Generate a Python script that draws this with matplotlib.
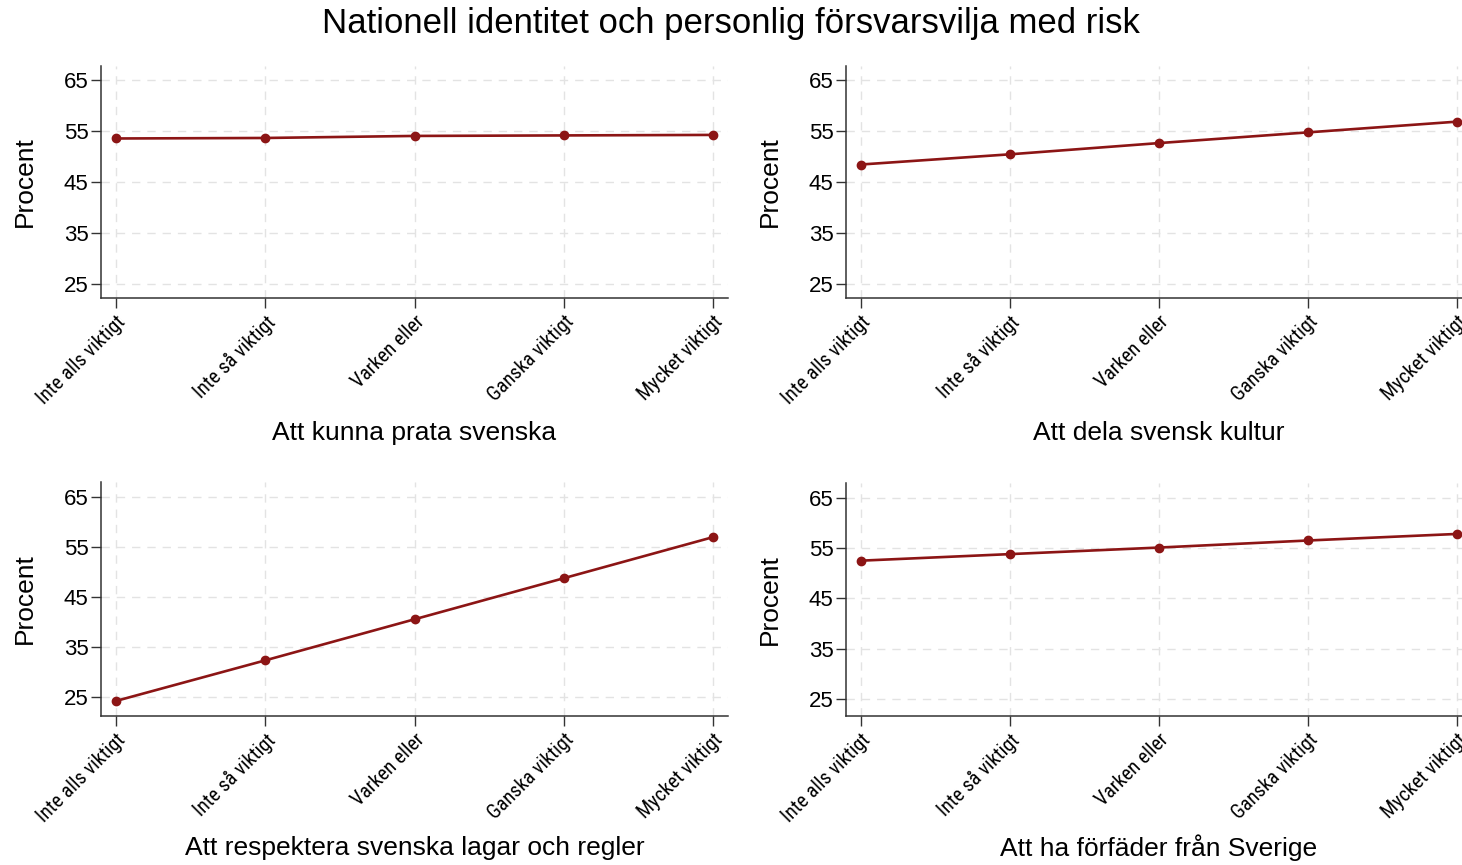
import matplotlib
matplotlib.use("Agg")
import matplotlib.pyplot as plt
from matplotlib import font_manager

names = {f.name for f in font_manager.fontManager.ttflist}
narrow_candidates = ["Liberation Sans Narrow", "Roboto Condensed", "Open Sans Condensed",
                     "DejaVu Sans Condensed", "Noto Sans Condensed"]
narrow = None
for n in narrow_candidates:
    if n in names:
        narrow = n
        break
plt.rcParams['font.family'] = ['Liberation Sans', 'DejaVu Sans']

title = "Nationell identitet och personlig försvarsvilja med risk"
categories = ["Inte alls viktigt", "Inte så viktigt", "Varken eller", "Ganska viktigt", "Mycket viktigt"]
yticks = [25, 35, 45, 55, 65]

panel_titles = ["Att kunna prata svenska", "Att dela svensk kultur",
                "Att respektera svenska lagar och regler", "Att ha förfäder från Sverige"]
svenska = [53.5, 53.6, 54.0, 54.1, 54.2]
kultur = [48.4, 50.4, 52.6, 54.7, 56.8]
lagar = [24.2, 32.3, 40.5, 48.7, 56.9]
forfader = [52.5, 53.8, 55.1, 56.5, 57.8]
series = [svenska, kultur, lagar, forfader]

if narrow is not None:
    xtick_family = [narrow, 'Liberation Sans', 'DejaVu Sans']
    xtick_size = 14.5
else:
    xtick_family = ['Liberation Sans', 'DejaVu Sans']
    xtick_size = 13.5

W, H = 1462, 865
fig = plt.figure(figsize=(W / 100, H / 100), dpi=100)

# pixel boxes: left, top, right, bottom
boxes = [(101, 66, 728, 298), (846, 66, 1472, 298),
         (101, 482, 728, 716), (846, 483, 1472, 716)]
ylims = [(22.25, 67.7), (22.25, 67.7), (21.2, 67.9), (21.7, 67.9)]
xlabel_y = [433, 433, 848, 848]
ylabel_x = [25, 770, 25, 770]

line_color = "#8c1515"
x = list(range(1, len(categories) + 1))

for i, (box, vals, lab, yl) in enumerate(zip(boxes, series, panel_titles, ylims)):
    l, t, r, b = box
    ax = fig.add_axes([l / W, 1 - b / H, (r - l) / W, (b - t) / H])
    ax.plot(x, vals, color=line_color, lw=1.9, marker='o', markersize=6,
            markerfacecolor=line_color, markeredgecolor=line_color, zorder=3)
    ax.set_xlim(0.9, 5.1)
    ax.set_ylim(*yl)
    ax.set_yticks(yticks)
    ax.set_yticklabels([str(v) for v in yticks], fontsize=16)
    ax.set_xticks(x)
    ax.set_xticklabels(categories, rotation=45, ha='right', rotation_mode='anchor',
                       fontsize=xtick_size, family=xtick_family)
    ax.tick_params(axis='both', direction='out', length=7, width=1.0, color='#333333')
    ax.tick_params(axis='y', pad=2)
    ax.tick_params(axis='x', pad=3)
    for s in ['top', 'right']:
        ax.spines[s].set_visible(False)
    for s in ['left', 'bottom']:
        ax.spines[s].set_color('#333333')
        ax.spines[s].set_linewidth(1.1)
    ax.grid(True, color='#e3e3e3', linestyle=(0, (6, 5)), linewidth=1.0, zorder=0)
    ax.set_axisbelow(True)
    cx = ((l + min(r, 1472)) / 2) / W
    fig.text(cx, 1 - xlabel_y[i] / H, lab, ha='center', va='center', fontsize=19)
    fig.text(ylabel_x[i] / W, 1 - ((t + b) / 2) / H, "Procent", ha='center', va='center',
             rotation=90, fontsize=19)

fig.text(0.5, 1 - 24 / H, title, ha='center', va='center', fontsize=25)

fig.savefig("out.png", dpi=100, facecolor='white')
